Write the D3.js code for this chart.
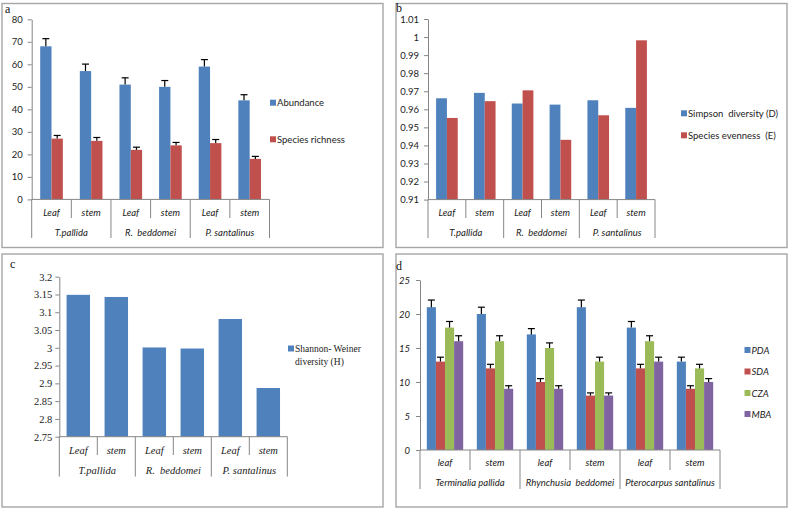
<!DOCTYPE html>
<html><head><meta charset="utf-8">
<script src="https://cdn.jsdelivr.net/npm/d3@7"></script>
<style>body{margin:0;background:#fff} text{white-space:pre}</style>
</head><body><svg id="c" width="791" height="510"></svg>
<script>
// ---------- data ----------
const partsAB = ["Leaf","stem","Leaf","stem","Leaf","stem"];
const speciesShort = ["T.pallida","R.  beddomei","P. santalinus"];
const abundance    = [68, 57, 51, 50, 59, 44];
const abundanceErr = [3.4, 3.1, 3.0, 2.8, 3.1, 2.5];
const richness     = [27, 26, 22, 24, 25, 18];
const richnessErr  = [1.4, 1.5, 1.2, 1.3, 1.6, 1.1];
const ticksA = [0,10,20,30,40,50,60,70,80];

const simpson  = [0.9661, 0.9691, 0.9632, 0.9626, 0.9650, 0.9608];
const evenness = [0.9552, 0.9645, 0.9705, 0.9431, 0.9567, 0.9982];
const ticksB = [0.91,0.92,0.93,0.94,0.95,0.96,0.97,0.98,0.99,1,1.01];

const shannon = [3.149, 3.143, 3.001, 2.998, 3.081, 2.887];
const ticksC = [2.75,2.8,2.85,2.9,2.95,3,3.05,3.1,3.15,3.2];

const partsD = ["leaf","stem","leaf","stem","leaf","stem"];
const speciesFull = ["Terminalia pallida","Rhynchusia  beddomei","Pterocarpus santalinus"];
const PDA = [21, 20, 17, 21, 18, 13];
const PDAerr = [1.05, 1.0, 0.85, 1.05, 0.9, 0.65];
const SDA = [13, 12, 10, 8, 12, 9];
const SDAerr = [0.65, 0.6, 0.5, 0.4, 0.6, 0.45];
const CZA = [18, 16, 15, 13, 16, 12];
const CZAerr = [0.9, 0.8, 0.75, 0.65, 0.8, 0.6];
const MBA = [16, 9, 9, 8, 13, 10];
const MBAerr = [0.8, 0.45, 0.45, 0.4, 0.65, 0.5];
const ticksD = [0,5,10,15,20,25];

const BLUE="#4F81BD", RED="#C0504D", GREEN="#9BBB59", PURPLE="#8064A2";
const SANS="Lato, 'Open Sans', sans-serif", SERIF="'Liberation Serif', 'Times New Roman', serif";

const svg = d3.select("#c");

// panel borders
[[2,3.5,381,244],[396,3.5,391,244],[2,254,381,253],[396,254,391,253]].forEach(b=>{
  svg.append("rect").attr("x",b[0]).attr("y",b[1]).attr("width",b[2]).attr("height",b[3])
    .attr("fill","none").attr("stroke","#a6a6a6").attr("stroke-width",1.4);
});
// panel letters
[["a",5,12.5],["b",396,12],["c",10,268],["d",396,270]].forEach(l=>{
  svg.append("text").attr("x",l[1]).attr("y",l[2]).text(l[0])
    .attr("font-family",SERIF).attr("font-size",12).attr("fill","#111");
});

function panel(cfg){
  const g = svg.append("g");
  const y = d3.scaleLinear().domain(cfg.domain).range([cfg.yB, cfg.yT]);
  const xb = d3.scaleBand().domain(d3.range(6)).range([cfg.xL, cfg.xR]);
  const bw = xb.bandwidth();
  const n = cfg.series.length;
  const w = bw/(n+(cfg.gap ?? 1.5));
  const off = (bw - n*w)/2;
  const xs = d3.scaleBand().domain(d3.range(n)).range([off, off+n*w]);

  // bars
  cfg.series.forEach((s,si)=>{
    g.selectAll(null).data(s.values).enter().append("rect")
      .attr("x",(d,i)=>xb(i)+xs(si)).attr("width",xs.bandwidth())
      .attr("y",d=>y(d)).attr("height",d=>cfg.yB-y(d)).attr("fill",s.color);
    if(s.err){
      s.values.forEach((v,i)=>{
        const cx = xb(i)+xs(si)+xs.bandwidth()/2;
        g.append("line").attr("x1",cx).attr("x2",cx).attr("y1",y(v)).attr("y2",y(v+s.err[i]))
          .attr("stroke","#000").attr("stroke-width",1.2);
        g.append("line").attr("x1",cx-3.5).attr("x2",cx+3.5).attr("y1",y(v+s.err[i])).attr("y2",y(v+s.err[i]))
          .attr("stroke","#000").attr("stroke-width",1.2);
      });
    }
  });

  // y axis
  const ax = g.append("g").attr("transform",`translate(${cfg.xL},0)`)
    .call(d3.axisLeft(y).tickValues(cfg.ticks).tickSize(4).tickSizeOuter(0).tickPadding(cfg.tickPad)
      .tickFormat(d=>String(+d.toFixed(2))));
  ax.select(".domain").attr("stroke","#868686");
  ax.selectAll(".tick line").attr("stroke","#868686");
  ax.selectAll(".tick text").attr("font-family",cfg.tickFamily).attr("font-size",cfg.tickSize)
    .attr("font-style",cfg.tickStyle||"normal").attr("fill","#222");

  // category axis
  g.append("line").attr("x1",cfg.xL).attr("x2",cfg.xR).attr("y1",cfg.yB).attr("y2",cfg.yB)
    .attr("stroke","#868686");
  d3.range(7).forEach(i=>{
    const x = cfg.xL + i*bw;
    g.append("line").attr("x1",x).attr("x2",x).attr("y1",cfg.yB).attr("y2", i%2===0 ? cfg.longY : cfg.shortY)
      .attr("stroke","#868686");
  });
  g.selectAll(null).data(cfg.parts).enter().append("text")
    .attr("x",(d,i)=>xb(i)+bw/2).attr("y",cfg.partY).attr("text-anchor","middle")
    .attr("font-family",cfg.catFamily).attr("font-size",cfg.catSize).attr("font-style","italic")
    .attr("fill","#222").text(d=>d);
  g.selectAll(null).data(cfg.groups).enter().append("text")
    .attr("x",(d,i)=>cfg.xL + (2*i+1)*bw).attr("y",cfg.groupY).attr("text-anchor","middle")
    .attr("font-family",cfg.catFamily).attr("font-size",cfg.catSize).attr("font-style","italic")
    .attr("fill","#222").text(d=>d);

  // legend
  cfg.series.forEach((s,si)=>{
    const ly = cfg.legend.ys[si];
    g.append("rect").attr("x",cfg.legend.x).attr("y",ly-3).attr("width",6).attr("height",6).attr("fill",s.color);
    const lines = s.name.split("\n");
    lines.forEach((t,li)=>{
      g.append("text").attr("x",cfg.legend.x+7).attr("y",ly+3.5+li*cfg.legend.lh).text(t)
        .attr("font-family",cfg.legend.family).attr("font-size",cfg.legend.size)
        .attr("font-style",cfg.legend.style||"normal").attr("fill","#222");
    });
  });
}

// panel a
panel({domain:[0,80], ticks:ticksA, xL:31.7, xR:269.5, yT:19.3, yB:199.4, tickPad:5,
  tickFamily:SANS, tickSize:9.5,
  series:[{values:abundance, err:abundanceErr, color:BLUE, name:"Abundance"},
          {values:richness, err:richnessErr, color:RED, name:"Species richness"}],
  parts:partsAB, groups:speciesShort, catFamily:SANS, catSize:9.5,
  shortY:218, longY:238, partY:216, groupY:235.5,
  legend:{x:270, ys:[102.7,139.3], family:SANS, size:9.5, lh:12}});

// panel b
panel({domain:[0.91,1.01], ticks:ticksB, xL:428, xR:655, yT:19, yB:199.6, tickPad:5,
  tickFamily:SANS, tickSize:9.5,
  series:[{values:simpson, color:BLUE, name:"Simpson  diversity (D)"},
          {values:evenness, color:RED, name:"Species evenness  (E)"}],
  parts:partsAB, groups:speciesShort, catFamily:SANS, catSize:9.5,
  shortY:218, longY:238, partY:216, groupY:235.5,
  legend:{x:681, ys:[113.3,135.3], family:SANS, size:9.5, lh:12}});

// panel c
panel({domain:[2.75,3.2], ticks:ticksC, xL:59.3, xR:287.3, yT:276.7, yB:436.7, tickPad:3, gap:0.62,
  tickFamily:SERIF, tickSize:10.5,
  series:[{values:shannon, color:BLUE, name:"Shannon- Weiner\ndiversity (H)"}],
  parts:partsAB, groups:speciesShort, catFamily:SERIF, catSize:10.5,
  shortY:455, longY:476.5, partY:453.5, groupY:473.5,
  legend:{x:288, ys:[348.5], family:SERIF, size:9.5, lh:13}});

// panel d
panel({domain:[0,25], ticks:ticksD, xL:420, xR:720, yT:280, yB:450, tickPad:6,
  tickFamily:SANS, tickSize:9.5, tickStyle:"italic",
  series:[{values:PDA, err:PDAerr, color:BLUE, name:"PDA"},
          {values:SDA, err:SDAerr, color:RED, name:"SDA"},
          {values:CZA, err:CZAerr, color:GREEN, name:"CZA"},
          {values:MBA, err:MBAerr, color:PURPLE, name:"MBA"}],
  parts:partsD, groups:speciesFull, catFamily:SANS, catSize:9.5,
  shortY:470, longY:489, partY:466, groupY:485.5,
  legend:{x:744.5, ys:[350,371.5,393,414], family:SANS, size:9.5, style:"italic", lh:12}});
</script></body></html>
